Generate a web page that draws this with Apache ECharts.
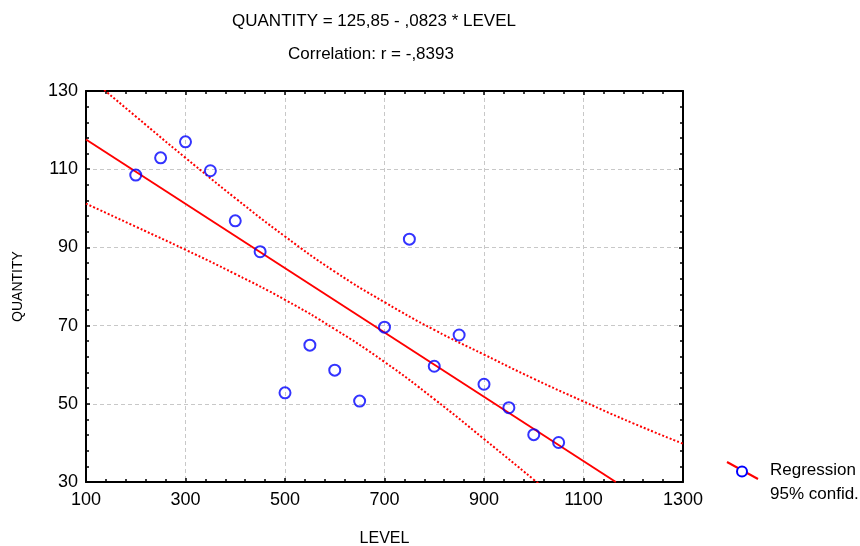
<!DOCTYPE html>
<html>
<head>
<meta charset="utf-8">
<script src="https://cdn.jsdelivr.net/npm/echarts@6/dist/echarts.min.js"></script>
<style>
html,body{margin:0;padding:0;background:#fff;}
#chart{width:860px;height:546px;}
</style>
</head>
<body>
<div id="chart"></div>
<script>
// ---- data ----
var titleLine1 = 'QUANTITY = 125,85 - ,0823 * LEVEL';
var titleLine2 = 'Correlation: r = -,8393';
var xName = 'LEVEL';
var yName = 'QUANTITY';
var legendLabels = ['Regression', '95% confid.'];

var levels     = [200, 250, 300, 350, 400, 450, 500, 550, 600, 650, 700, 750, 800, 850, 900, 950, 1000, 1050];
var quantities = [108.5, 112.9, 117.0, 109.6, 96.8, 88.9, 52.8, 65.0, 58.6, 50.7, 69.6, 92.1, 59.6, 67.6, 55.0, 49.0, 42.1, 40.1];

// regression line end points (clipped at the bottom axis)
var regX = [100, 1165];
var regY = [117.6, 30];

// 95% confidence band, read at these LEVEL values
var bandX     = [100, 200, 300, 400, 500, 600, 700, 800, 900, 1000, 1100, 1200, 1300];
var bandUpper = [134.2, 123.5, 112.9, 102.6, 92.8, 83.8, 76.0, 68.9, 62.6, 56.4, 50.6, 45.0, 39.8];
var bandLower = [101.2, 95.3, 89.4, 83.2, 76.6, 69.1, 60.7, 51.2, 41.0, 30.6, 20.0, 9.3, -1.5];

var xTicks = {min: 100, max: 1300, interval: 200};
var yTicks = {min: 30, max: 130, interval: 20};

// ---- build chart ----
function pairs(xs, ys){ return xs.map(function(x,i){ return [x, ys[i]]; }); }

var FONT = '"Liberation Sans", Arial, sans-serif';
var chart = echarts.init(document.getElementById('chart'), null, {renderer: 'canvas'});

function axisCommon(showLabel, margin){
  return {
    axisLine: {show: true, onZero: false, lineStyle: {color: '#000', width: 2}},
    axisTick: {show: true, inside: true, length: 4, lineStyle: {color: '#000', width: 1.5}},
    minorTick: {show: true, splitNumber: 5, length: 3, lineStyle: {color: '#000', width: 1.5}},
    axisLabel: {show: showLabel, color: '#000', fontSize: 18, fontFamily: FONT, margin: margin,
      formatter: function(v){ return String(v); }},
    minorSplitLine: {show: false}
  };
}

var xBottom = Object.assign({type: 'value', position: 'bottom', gridIndex: 0,
  min: xTicks.min, max: xTicks.max, interval: xTicks.interval,
  name: xName, nameLocation: 'middle', nameGap: 49,
  nameTextStyle: {color: '#000', fontSize: 16, fontFamily: FONT},
  splitLine: {show: true, lineStyle: {color: '#c8c8c8', type: [4, 3], width: 1}}
}, axisCommon(true, 9));
xBottom.axisLabel.showMinLabel = true; xBottom.axisLabel.showMaxLabel = true;

var xTop = Object.assign({type: 'value', position: 'top', gridIndex: 0,
  min: xTicks.min, max: xTicks.max, interval: xTicks.interval,
  splitLine: {show: false}
}, axisCommon(false, 8));

var yLeft = Object.assign({type: 'value', position: 'left', gridIndex: 0,
  min: yTicks.min, max: yTicks.max, interval: yTicks.interval,
  name: yName, nameLocation: 'middle', nameGap: 61, nameRotate: 90,
  nameTextStyle: {color: '#000', fontSize: 14, fontFamily: FONT},
  splitLine: {show: true, lineStyle: {color: '#c8c8c8', type: [4, 3], width: 1}}
}, axisCommon(true, 8));

var yRight = Object.assign({type: 'value', position: 'right', gridIndex: 0,
  min: yTicks.min, max: yTicks.max, interval: yTicks.interval,
  splitLine: {show: false}
}, axisCommon(false, 8));

var option = {
  backgroundColor: '#fff',
  animation: false,
  grid: {left: 86, top: 91, right: 177, bottom: 64, containLabel: false, outerBoundsMode: 'none'},
  xAxis: [xBottom, xTop],
  yAxis: [yLeft, yRight],
  series: [
    {type: 'line', name: 'upper', xAxisIndex: 0, yAxisIndex: 0, data: pairs(bandX, bandUpper),
     smooth: true, showSymbol: false, symbol: 'none', clip: true,
     lineStyle: {color: '#ff0000', width: 2, type: [2, 2]}, z: 3},
    {type: 'line', name: 'lower', xAxisIndex: 0, yAxisIndex: 0, data: pairs(bandX, bandLower),
     smooth: true, showSymbol: false, symbol: 'none', clip: true,
     lineStyle: {color: '#ff0000', width: 2, type: [2, 2]}, z: 3},
    {type: 'line', name: 'Regression', xAxisIndex: 0, yAxisIndex: 0, data: pairs(regX, regY),
     showSymbol: false, symbol: 'none', clip: true,
     lineStyle: {color: '#ff0000', width: 2}, z: 4},
    {type: 'scatter', name: 'points', xAxisIndex: 0, yAxisIndex: 0, data: pairs(levels, quantities),
     symbol: 'circle', symbolSize: 11,
     itemStyle: {color: 'rgba(255,255,255,0)', borderColor: '#0000ff', borderWidth: 2}, z: 5}
  ],
  graphic: [
    {type: 'text', x: 374, y: 21, style: {text: titleLine1, fill: '#000', font: '17px ' + FONT, textAlign: 'center', textVerticalAlign: 'middle'}},
    {type: 'text', x: 371, y: 54, style: {text: titleLine2, fill: '#000', font: '17px ' + FONT, textAlign: 'center', textVerticalAlign: 'middle'}},
    {type: 'line', shape: {x1: 727, y1: 462, x2: 758, y2: 479}, style: {stroke: '#ff0000', lineWidth: 2}},
    {type: 'circle', shape: {cx: 742, cy: 471.5, r: 5}, style: {fill: '#fff', stroke: '#0000ff', lineWidth: 2}},
    {type: 'text', x: 770, y: 470, style: {text: legendLabels[0], fill: '#000', font: '17px ' + FONT, textAlign: 'left', textVerticalAlign: 'middle'}},
    {type: 'text', x: 770, y: 494, style: {text: legendLabels[1], fill: '#000', font: '17px ' + FONT, textAlign: 'left', textVerticalAlign: 'middle'}}
  ]
};
chart.setOption(option);
</script>
</body>
</html>
